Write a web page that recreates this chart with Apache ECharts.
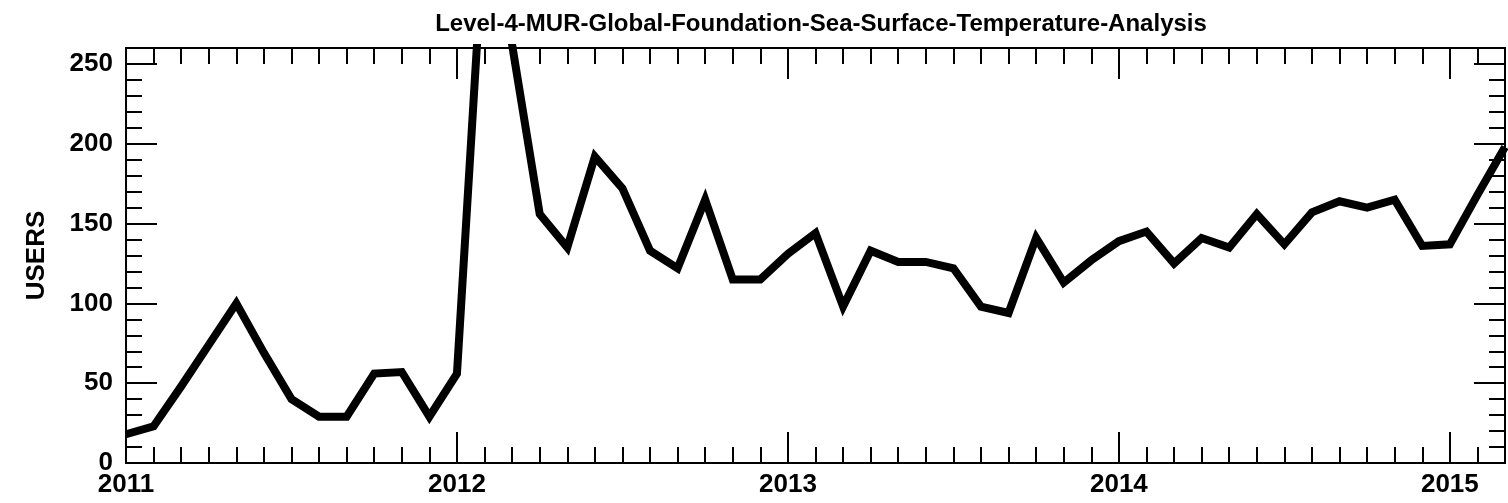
<!DOCTYPE html>
<html>
<head>
<meta charset="utf-8">
<script src="https://cdn.jsdelivr.net/npm/echarts@6/dist/echarts.min.js"></script>
<style>
html,body{margin:0;padding:0;background:#fff;}
#chart{width:1508px;height:503px;}
</style>
</head>
<body>
<div id="chart"></div>
<script>
// ---- data ----
const chartTitle = 'Level-4-MUR-Global-Foundation-Sea-Surface-Temperature-Analysis';
const yName = 'USERS';
const months = [
  '2011-01','2011-02','2011-03','2011-04','2011-05','2011-06','2011-07','2011-08','2011-09','2011-10','2011-11','2011-12',
  '2012-01','2012-02','2012-03','2012-04','2012-05','2012-06','2012-07','2012-08','2012-09','2012-10','2012-11','2012-12',
  '2013-01','2013-02','2013-03','2013-04','2013-05','2013-06','2013-07','2013-08','2013-09','2013-10','2013-11','2013-12',
  '2014-01','2014-02','2014-03','2014-04','2014-05','2014-06','2014-07','2014-08','2014-09','2014-10','2014-11','2014-12',
  '2015-01','2015-02','2015-03'
];
const users = [
  18, 23, 48, 74, 100, 69, 40, 29, 29, 56, 57, 29,
  56, 340, 262, 156, 135, 192, 172, 133, 122, 165, 115, 115,
  131, 144, 98, 133, 126, 126, 122, 98, 94, 141, 113, 127,
  139, 145, 125, 141, 135, 156, 137, 157, 164, 160, 165, 136,
  137, 168, 198
];
const yearLabels = ['2011', '2012', '2013', '2014', '2015'];
const yTickLabels = [0, 50, 100, 150, 200, 250];
const startYear = 2011;
const xMin = 0, xMax = 50;     // months since Jan 2011 (Jan 2011 .. Mar 2015)
const yMin = 0, yMax = 260;

// ---- build ----
function monthIndex(s) {
  const p = s.split('-');
  return (parseInt(p[0], 10) - startYear) * 12 + (parseInt(p[1], 10) - 1);
}
const seriesData = months.map((m, i) => [monthIndex(m), users[i]]);

const FONT = '"Liberation Sans Narrow", "Arial Narrow", "Liberation Sans", sans-serif';
const lineStyle = { color: '#000', width: 2 };

function xAx(position, interval, tickLen, withLabels) {
  return {
    type: 'value', position: position, min: xMin, max: xMax, interval: interval,
    axisLine: { show: true, onZero: false, lineStyle: lineStyle },
    axisTick: { show: true, inside: true, length: tickLen, lineStyle: lineStyle },
    splitLine: { show: false },
    axisLabel: {
      show: withLabels, margin: 9, color: '#000', fontFamily: FONT, fontWeight: 'bold', fontSize: 26,
      formatter: function (v) {
        if (v % 12 !== 0) return '';
        const idx = v / 12;
        return yearLabels[idx] !== undefined ? yearLabels[idx] : '';
      }
    }
  };
}
function yAx(position, interval, tickLen, withLabels) {
  const ax = {
    type: 'value', position: position, min: yMin, max: yMax, interval: interval,
    axisLine: { show: true, onZero: false, lineStyle: lineStyle },
    axisTick: { show: true, inside: true, length: tickLen, lineStyle: lineStyle },
    splitLine: { show: false },
    axisLabel: {
      show: withLabels, margin: 13, color: '#000', fontFamily: FONT, fontWeight: 'bold', fontSize: 26,
      formatter: function (v) { return yTickLabels.indexOf(v) >= 0 ? String(v) : ''; }
    }
  };
  if (withLabels) {
    ax.name = yName;
    ax.nameLocation = 'middle';
    ax.nameRotate = 90;
    ax.nameGap = 76;
    ax.nameTextStyle = { color: '#000', fontFamily: FONT, fontWeight: 'bold', fontSize: 26 };
  }
  return ax;
}

const chart = echarts.init(document.getElementById('chart'), null, { renderer: 'canvas' });
chart.setOption({
  animation: false,
  backgroundColor: '#fff',
  title: {
    text: chartTitle, left: 816, top: 7, textAlign: 'center',
    textStyle: { color: '#000', fontFamily: FONT, fontWeight: 'bold', fontSize: 24 }
  },
  grid: { left: 126, top: 48, width: 1381, height: 415, containLabel: false },
  xAxis: [
    xAx('bottom', 12, 31, true),
    xAx('bottom', 1, 16, false),
    xAx('top', 12, 31, false),
    xAx('top', 1, 16, false)
  ],
  yAxis: [
    yAx('left', 50, 31, true),
    yAx('left', 10, 16, false),
    yAx('right', 50, 31, false),
    yAx('right', 10, 16, false)
  ],
  series: [{
    type: 'line', xAxisIndex: 0, yAxisIndex: 0,
    data: seriesData, symbol: 'none', clip: true,
    lineStyle: { color: '#000', width: 8, join: 'miter', miterLimit: 10 }
  }]
});
</script>
</body>
</html>
